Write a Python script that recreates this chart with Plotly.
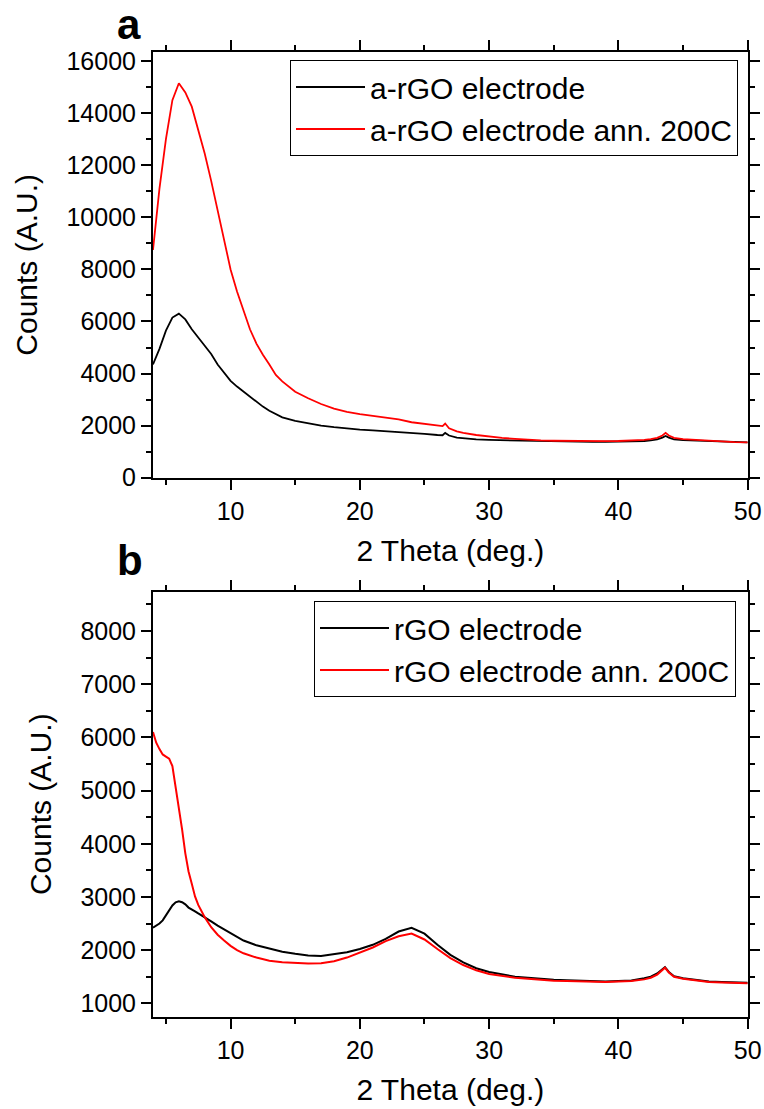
import plotly.graph_objects as go

# ---------------- data ----------------
xa = [4.0, 4.5, 5.0, 5.5, 6.0, 6.5, 7.0, 7.5, 8.0, 8.5, 9.0, 9.5, 10.0, 10.5, 11.0, 11.5,
      12.0, 12.5, 13.0, 13.5, 14.0, 15.0, 16.0, 17.0, 18.0, 19.0, 20.0, 21.0, 22.0, 23.0,
      24.0, 25.0, 26.0, 26.4, 26.6, 26.9, 27.5, 28.0, 29.0, 30.0, 31.0, 32.0, 33.0, 34.0,
      35.0, 36.0, 37.0, 38.0, 39.0, 40.0, 41.0, 42.0, 42.5, 43.0, 43.4, 43.65, 43.9, 44.3,
      45.0, 46.0, 47.0, 48.0, 49.0, 50.0]

a_rgo = [4350, 4950, 5650, 6150, 6300, 6080, 5700, 5380, 5050, 4750, 4350, 4050, 3720, 3500,
         3300, 3100, 2930, 2730, 2570, 2440, 2320, 2180, 2080, 2000, 1940, 1890, 1850, 1820,
         1790, 1750, 1710, 1680, 1640, 1630, 1720, 1620, 1540, 1510, 1470, 1450, 1440, 1430,
         1410, 1400, 1390, 1380, 1370, 1375, 1380, 1385, 1390, 1410, 1430, 1470, 1540, 1600,
         1540, 1470, 1440, 1420, 1395, 1380, 1370, 1360]

a_rgo_ann = [8750, 11100, 13000, 14500, 15150, 14800, 14250, 13400, 12450, 11400, 10300, 9100,
             8000, 7150, 6380, 5700, 5150, 4720, 4350, 3950, 3700, 3300, 3050, 2830, 2650, 2530,
             2440, 2370, 2300, 2240, 2130, 2060, 2000, 1980, 2080, 1900, 1780, 1720, 1640, 1580,
             1530, 1490, 1450, 1430, 1420, 1410, 1400, 1400, 1405, 1410, 1420, 1450, 1480, 1530,
             1620, 1720, 1620, 1530, 1480, 1450, 1410, 1390, 1370, 1360]

xb = [4.0, 4.25, 4.5, 4.75, 5.0, 5.25, 5.5, 5.75, 6.0, 6.25, 6.5, 6.75, 7.0, 7.25, 7.5, 8.0,
      8.5, 9.0, 9.5, 10.0, 10.5, 11.0, 12.0, 13.0, 14.0, 15.0, 16.0, 17.0, 18.0, 19.0, 20.0,
      21.0, 22.0, 23.0, 24.0, 25.0, 26.0, 27.0, 28.0, 29.0, 30.0, 31.0, 32.0, 33.0, 34.0, 35.0,
      36.0, 37.0, 38.0, 39.0, 40.0, 41.0, 42.0, 42.5, 43.0, 43.3, 43.6, 43.9, 44.3, 45.0, 46.0,
      47.0, 48.0, 49.0, 50.0]

rgo = [2420, 2460, 2500, 2560, 2650, 2760, 2840, 2900, 2920, 2900, 2860, 2800, 2770, 2730,
       2690, 2620, 2540, 2460, 2390, 2310, 2240, 2180, 2090, 2030, 1970, 1930, 1900, 1890, 1920,
       1960, 2020, 2100, 2210, 2350, 2420, 2310, 2100, 1910, 1770, 1660, 1590, 1540, 1500, 1480,
       1460, 1445, 1435, 1425, 1410, 1410, 1420, 1430, 1470, 1500, 1560, 1620, 1680, 1590, 1510,
       1470, 1440, 1410, 1400, 1390, 1385]

rgo_ann = [6100, 5900, 5780, 5680, 5640, 5600, 5460, 5080, 4680, 4270, 3820, 3480, 3250, 3010,
           2850, 2620, 2430, 2290, 2180, 2080, 2000, 1940, 1860, 1800, 1770, 1760, 1750, 1755,
           1790, 1860, 1950, 2050, 2170, 2260, 2310, 2200, 2020, 1850, 1720, 1620, 1550, 1510,
           1480, 1460, 1440, 1425, 1420, 1410, 1400, 1400, 1410, 1420, 1450, 1480, 1540, 1610,
           1670, 1580, 1500, 1460, 1430, 1400, 1390, 1385, 1375]

names_a = ["a-rGO electrode", "a-rGO electrode ann. 200C"]
names_b = ["rGO electrode", "rGO electrode ann. 200C"]
x_title = "2 Theta (deg.)"
y_title = "Counts (A.U.)"

# ---------------- figure ----------------
W, H = 764, 1109
FONT = "Arial, Liberation Sans, sans-serif"

fig = go.Figure()
fig.add_trace(go.Scatter(x=xa, y=a_rgo, mode="lines", name=names_a[0],
                         line=dict(color="black", width=1.8), xaxis="x", yaxis="y", legend="legend"))
fig.add_trace(go.Scatter(x=xa, y=a_rgo_ann, mode="lines", name=names_a[1],
                         line=dict(color="red", width=1.8), xaxis="x", yaxis="y", legend="legend"))
fig.add_trace(go.Scatter(x=xb, y=rgo, mode="lines", name=names_b[0],
                         line=dict(color="black", width=2), xaxis="x2", yaxis="y2", legend="legend2"))
fig.add_trace(go.Scatter(x=xb, y=rgo_ann, mode="lines", name=names_b[1],
                         line=dict(color="red", width=2), xaxis="x2", yaxis="y2", legend="legend2"))

x_dom = [153 / W, 747.7 / W]
ya_dom = [1 - 477.7 / H, 1 - 52 / H]
yb_dom = [1 - 1016.7 / H, 1 - 591.7 / H]

def xaxis(anchor):
    return dict(domain=x_dom, anchor=anchor, range=[4, 50], tick0=0, dtick=10,
                ticks="outside", ticklen=10, tickwidth=2, tickcolor="black",
                showline=True, linecolor="black", linewidth=2, mirror="allticks",
                showgrid=False, zeroline=False,
                minor=dict(dtick=5, tick0=0, ticks="outside", ticklen=5, tickwidth=2, tickcolor="black"),
                tickfont=dict(size=25, color="black", family=FONT),
                title=dict(text=x_title, font=dict(size=30, color="black", family=FONT), standoff=16))

def yaxis(anchor, dom, rng, dt, mdt):
    return dict(domain=dom, anchor=anchor, range=rng, tick0=0, dtick=dt, tickformat="d",
                ticks="outside", ticklen=10, tickwidth=2, tickcolor="black",
                showline=True, linecolor="black", linewidth=2, mirror="allticks",
                showgrid=False, zeroline=False,
                minor=dict(dtick=mdt, tick0=0, ticks="outside", ticklen=5, tickwidth=2, tickcolor="black"),
                tickfont=dict(size=25, color="black", family=FONT),
                title=dict(text=y_title, font=dict(size=30, color="black", family=FONT), standoff=20))

fig.update_layout(
    width=W, height=H,
    margin=dict(l=0, r=0, t=0, b=0, autoexpand=False),
    paper_bgcolor="white", plot_bgcolor="white",
    font=dict(family=FONT, color="black"),
    xaxis=xaxis("y"),
    yaxis=yaxis("x", ya_dom, [0, 16350], 2000, 1000),
    xaxis2=xaxis("y2"),
    yaxis2=yaxis("x2", yb_dom, [748, 8740], 1000, 500),
    legend=dict(x=290 / W, y=1 - 60 / H, xanchor="left", yanchor="top",
                bgcolor="white", bordercolor="black", borderwidth=1,
                font=dict(size=30, color="black", family=FONT), itemwidth=69,
                tracegroupgap=0),
    legend2=dict(x=314 / W, y=1 - 601 / H, xanchor="left", yanchor="top",
                 bgcolor="white", bordercolor="black", borderwidth=1,
                 font=dict(size=30, color="black", family=FONT), itemwidth=69,
                 tracegroupgap=0),
    showlegend=True,
    annotations=[
        dict(text="<b>a</b>", x=129 / W, y=1 - 24 / H, xref="paper", yref="paper",
             xanchor="center", yanchor="middle", showarrow=False,
             font=dict(size=42, color="black", family=FONT)),
        dict(text="<b>b</b>", x=130 / W, y=1 - 560 / H, xref="paper", yref="paper",
             xanchor="center", yanchor="middle", showarrow=False,
             font=dict(size=42, color="black", family=FONT)),
    ],
)

fig.write_html("out.html")
